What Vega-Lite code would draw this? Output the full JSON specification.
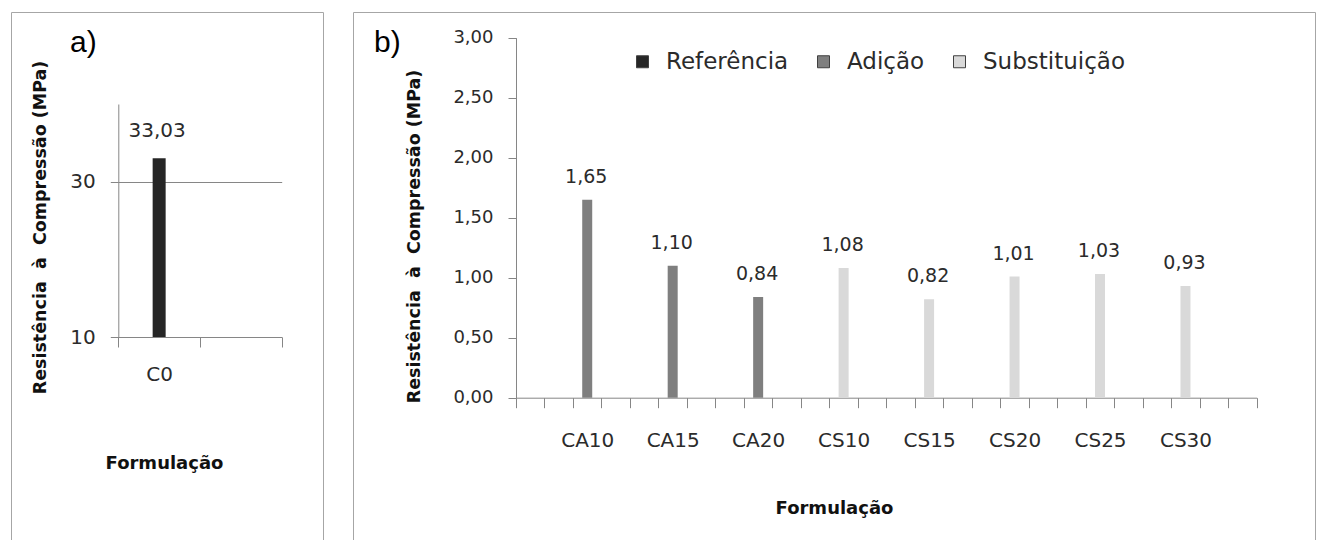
{
  "$schema": "https://vega.github.io/schema/vega-lite/v6.json",
  "autosize": {"type": "pad"},
  "padding": {"left": 10, "top": 11, "right": 0, "bottom": 0},
  "background": "white",
  "spacing": 28,
  "config": {
    "view": {"stroke": "#a6a6a6", "strokeWidth": 1},
    "font": "DejaVu Sans",
    "locale": {"number": {"decimal": ",", "thousands": ".", "grouping": [3], "currency": ["R$", ""]}},
    "axis": {"domainColor": "#868686", "tickColor": "#868686", "gridColor": "#868686", "labelColor": "#2b2b2b", "labelFont": "DejaVu Sans", "titleFont": "DejaVu Sans", "titleColor": "#111111", "titleFontWeight": "bold"}
  },
  "resolve": {"scale": {"color": "independent", "x": "independent", "y": "independent"}, "legend": {"color": "independent"}},
  "hconcat": [
    {
      "width": 312,
      "height": 529,
      "title": {"text": "a)", "anchor": "start", "frame": "group", "offset": -61, "dx": 59, "baseline": "middle", "fontSize": 30, "fontWeight": "normal", "font": "Liberation Sans", "color": "#000000"},
      "data": {"values": [{"Formulação": "C0", "Série": "Referência", "MPa": 33.03}]},
      "encoding": {
        "x": {
          "field": "Formulação", "type": "nominal",
          "scale": {"domain": ["C0", "_a"], "range": [107.3, 270.7], "paddingInner": 0, "paddingOuter": 0},
          "axis": {"offset": -204, "tickSize": 10, "tickBand": "extent", "labelExpr": "indexof(datum.label,'_')==0 ? '' : datum.label", "labelAngle": 0, "labelFontSize": 20, "labelPadding": 27, "labelBaseline": "middle", "title": "Formulação", "titleFontSize": 18, "titleX": 153, "titleY": 126, "titleAlign": "center", "titleBaseline": "middle"}
        },
        "y": {
          "field": "MPa", "type": "quantitative",
          "scale": {"domain": [10, 40], "range": [325, 92], "zero": false, "nice": false},
          "axis": {"values": [10, 30], "format": "d", "offset": -107.3, "tickSize": 8, "labelPadding": 15, "labelFontSize": 20, "grid": true, "title": "Resistência\u00a0 à\u00a0 Compressão (MPa)", "titleFontSize": 17.5, "titleX": -78, "titleY": 215, "titleAngle": -90, "titleAlign": "center", "titleBaseline": "middle"}
        }
      },
      "layer": [
        {
          "mark": {"type": "bar", "width": 13},
          "encoding": {
            "y2": {"datum": 10},
            "color": {"field": "Série", "type": "nominal", "scale": {"domain": ["Referência", "Adição", "Substituição"], "range": ["#262626", "#7f7f7f", "#d9d9d9"]}, "legend": null}
          }
        },
        {
          "mark": {"type": "text", "dy": -27, "dx": -2, "fontSize": 20, "font": "DejaVu Sans", "color": "#2b2b2b", "baseline": "middle"},
          "encoding": {"text": {"field": "MPa", "type": "quantitative", "format": ".2f"}}
        }
      ]
    },
    {
      "width": 962,
      "height": 529,
      "title": {"text": "b)", "anchor": "start", "frame": "group", "offset": -61, "dx": 21, "baseline": "middle", "fontSize": 30, "fontWeight": "normal", "font": "Liberation Sans", "color": "#000000"},
      "data": {"values": [
        {"Formulação": "CA10", "Série": "Adição", "MPa": 1.65},
        {"Formulação": "CA15", "Série": "Adição", "MPa": 1.10},
        {"Formulação": "CA20", "Série": "Adição", "MPa": 0.84},
        {"Formulação": "CS10", "Série": "Substituição", "MPa": 1.08},
        {"Formulação": "CS15", "Série": "Substituição", "MPa": 0.82},
        {"Formulação": "CS20", "Série": "Substituição", "MPa": 1.01},
        {"Formulação": "CS25", "Série": "Substituição", "MPa": 1.03},
        {"Formulação": "CS30", "Série": "Substituição", "MPa": 0.93}
      ]},
      "encoding": {
        "x": {
          "field": "Formulação", "type": "nominal",
          "scale": {"domain": ["_00", "_01", "CA10", "_03", "_04", "CA15", "_06", "_07", "CA20", "_09", "_10", "CS10", "_12", "_13", "CS15", "_15", "_16", "CS20", "_18", "_19", "CS25", "_21", "_22", "CS30", "_24", "_25"], "range": [163, 903.7], "paddingInner": 0, "paddingOuter": 0},
          "axis": {"offset": -143.3, "tickSize": 10, "tickBand": "extent", "labelExpr": "indexof(datum.label,'_')==0 ? '' : datum.label", "labelAngle": 0, "labelFontSize": 20, "labelPadding": 33, "labelBaseline": "middle", "title": "Formulação", "titleFontSize": 18, "titleX": 481, "titleY": 111, "titleAlign": "center", "titleBaseline": "middle"}
        },
        "y": {
          "field": "MPa", "type": "quantitative",
          "scale": {"domain": [0, 3], "range": [385.7, 25.7], "nice": false},
          "axis": {"values": [0, 0.5, 1, 1.5, 2, 2.5, 3], "format": ".2f", "offset": -163, "tickSize": 8, "labelPadding": 15, "labelFontSize": 18, "grid": false, "title": "Resistência\u00a0 à\u00a0 Compressão (MPa)", "titleFontSize": 17.5, "titleX": -102, "titleY": 224, "titleAngle": -90, "titleAlign": "center", "titleBaseline": "middle"}
        }
      },
      "layer": [
        {
          "mark": {"type": "bar", "width": 10},
          "encoding": {
            "y2": {"datum": 0},
            "color": {
              "field": "Série", "type": "nominal",
              "scale": {"domain": ["Referência", "Adição", "Substituição"], "range": ["#262626", "#7f7f7f", "#d9d9d9"]},
              "legend": {"orient": "none", "legendX": 278, "legendY": 38, "direction": "horizontal", "title": null, "symbolType": "square", "symbolSize": 144, "symbolStrokeColor": "#404040", "symbolStrokeWidth": 1, "labelFontSize": 23, "labelFont": "DejaVu Sans", "labelColor": "#2b2b2b", "labelOffset": 12, "columnPadding": 23, "padding": 0}
            }
          }
        },
        {
          "mark": {"type": "text", "dy": -23, "dx": -1, "fontSize": 19, "font": "DejaVu Sans", "color": "#2b2b2b", "baseline": "middle"},
          "encoding": {"text": {"field": "MPa", "type": "quantitative", "format": ".2f"}}
        }
      ]
    }
  ]
}
